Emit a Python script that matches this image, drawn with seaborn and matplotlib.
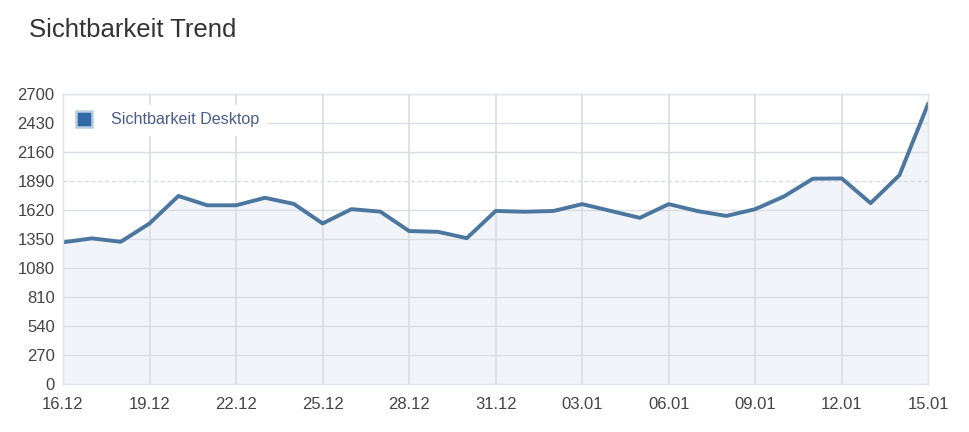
import matplotlib
matplotlib.use("Agg")
import matplotlib.pyplot as plt
import seaborn as sns
import pandas as pd
import numpy as np
from matplotlib.lines import Line2D

dates = ["16.12", "17.12", "18.12", "19.12", "20.12", "21.12", "22.12", "23.12",
         "24.12", "25.12", "26.12", "27.12", "28.12", "29.12", "30.12", "31.12",
         "01.01", "02.01", "03.01", "04.01", "05.01", "06.01", "07.01", "08.01",
         "09.01", "10.01", "11.01", "12.01", "13.01", "14.01", "15.01"]
values = [1320, 1357, 1325, 1496, 1752, 1665, 1665, 1735, 1678, 1496,
          1629, 1606, 1425, 1418, 1359, 1612, 1605, 1612, 1676, 1612,
          1548, 1676, 1611, 1566, 1629, 1748, 1913, 1915, 1685, 1946, 2614]
y_ticks = [0, 270, 540, 810, 1080, 1350, 1620, 1890, 2160, 2430, 2700]
x_tick_labels = ["16.12", "19.12", "22.12", "25.12", "28.12", "31.12",
                 "03.01", "06.01", "09.01", "12.01", "15.01"]
series_name = "Sichtbarkeit Desktop"
title = "Sichtbarkeit Trend"

df = pd.DataFrame({"idx": np.arange(len(dates)), "date": dates, "value": values})

sns.set_theme(style="white")
plt.rcParams["font.family"] = ["Liberation Sans", "DejaVu Sans"]

fig = plt.figure(figsize=(9.7, 4.32), dpi=100)
ax = fig.add_axes([0.065, 0.111, 0.892, 0.671])

line_color = "#4a76a0"
ax.fill_between(df["idx"], df["value"], 0, color="#f1f4f9", zorder=1)
sns.lineplot(data=df, x="idx", y="value", ax=ax, color=line_color,
             linewidth=2.8, zorder=3, legend=False)

ax.set_xlim(0, len(dates) - 1)
ax.set_ylim(0, 2700)
ax.set_yticks(y_ticks)
ax.set_yticklabels([str(t) for t in y_ticks])
tick_pos = [dates.index(l) for l in x_tick_labels]
ax.set_xticks(tick_pos)
ax.set_xticklabels(x_tick_labels)

grid_c = "#dadde2"
for t in y_ticks[1:]:
    ls = (0, (3, 2)) if t == 1890 else "-"
    ax.axhline(t, color=grid_c, linewidth=1, linestyle=ls, zorder=2)
for p in tick_pos[1:-1]:
    ax.axvline(p, color=grid_c, linewidth=1.2, zorder=2)

for s in ax.spines.values():
    s.set_color("#dfe2e6")
    s.set_linewidth(1)
    s.set_zorder(6)

ax.tick_params(axis="y", length=0, labelsize=12, labelcolor="#444444", pad=6)
ax.tick_params(axis="x", length=0, labelsize=12, labelcolor="#444444", pad=9)
ax.set_xlabel("")
ax.set_ylabel("")

handle = Line2D([], [], marker="s", linestyle="none", markersize=12,
                markerfacecolor="#2f6aa6", markeredgecolor="#b9cde3",
                markeredgewidth=1.8)
leg = ax.legend([handle], [series_name], loc="upper left",
                bbox_to_anchor=(-0.012, 0.99), frameon=True, fontsize=11.6,
                handletextpad=0.7, borderpad=0.45, fancybox=False)
leg.get_frame().set_facecolor("white")
leg.get_frame().set_edgecolor("white")
leg.get_frame().set_alpha(1)
for t in leg.get_texts():
    t.set_color("#4b5b8c")
leg.set_zorder(5)

fig.text(0.030, 0.93, title, fontsize=18.5, color="#333333", ha="left", va="center")

fig.savefig("out.png", dpi=100, facecolor="white")
